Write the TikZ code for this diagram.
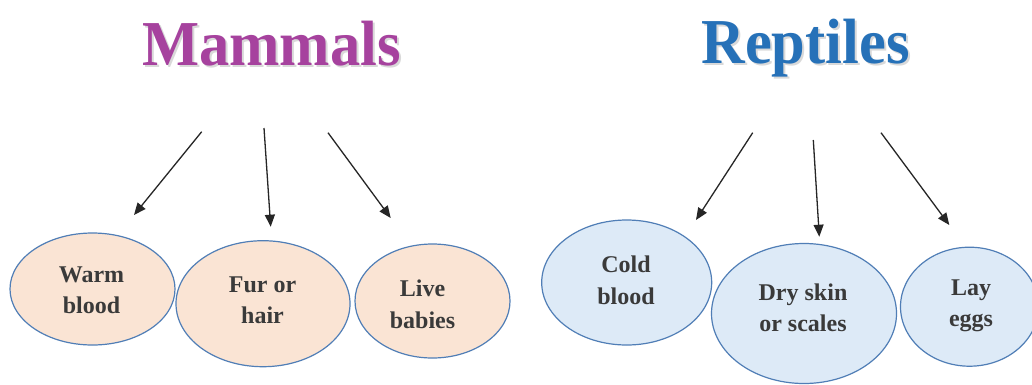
\documentclass[tikz,border=0pt]{standalone}
\usepackage{fontspec}
\setmainfont{Liberation Serif}
\usetikzlibrary{shapes.geometric,arrows.meta}
\definecolor{mamtitle}{RGB}{166,66,158}
\definecolor{reptitle}{RGB}{38,113,184}
\definecolor{mamfill}{RGB}{250,228,212}
\definecolor{repfill}{RGB}{221,234,247}
\definecolor{rim}{RGB}{80,126,182}
\definecolor{ink}{RGB}{58,58,58}
\tikzset{
  title/.style={anchor=base,inner sep=0pt,xscale=0.945,
    font=\fontsize{64}{70}\selectfont\bfseries},
  shade/.style={title,text=black!15},
  blob/.style={ellipse,draw=rim,line width=1.2pt,inner sep=0pt},
  mam/.style={blob,fill=mamfill},
  rep/.style={blob,fill=repfill},
  lbl/.style={align=center,inner sep=0pt,text=ink,
    font=\fontsize{24}{31.5}\selectfont\bfseries},
  pointer/.style={line width=1.3pt,draw=black!85,
    -{Triangle[length=12pt,width=10pt]}}
}
\begin{document}
\begin{tikzpicture}[x=1pt,y=-1pt]
\useasboundingbox[fill=white] (0,0) rectangle (1032,384);

% headings with a soft drop shadow
\node[shade] (mamS) at (273.5,67) {Mammals};
\node[title,text=mamtitle] (mamT) at (271.5,65) {Mammals};
\node[shade] (repS) at (807.5,65.3) {Reptiles};
\node[title,text=reptitle] (repT) at (805.5,63.3) {Reptiles};

% mammal traits
\node[mam,minimum width=165pt,minimum height=112pt] (warm) at (92.5,289) {};
\node[mam,minimum width=174pt,minimum height=126pt] (fur) at (263,303.7) {};
\node[mam,minimum width=155pt,minimum height=114pt] (live) at (432.5,301) {};
\node[lbl] (warmT) at (91.5,290) {Warm\\blood};
\node[lbl] (furT) at (262.5,300) {Fur or\\hair};
\node[lbl] (liveT) at (422.5,304.5) {Live\\babies};

% reptile traits
\node[rep,minimum width=170pt,minimum height=125pt] (cold) at (626.7,282.5) {};
\node[rep,minimum width=185pt,minimum height=140pt] (dry) at (804,313.5) {};
\node[rep,minimum width=138pt,minimum height=119pt] (lay) at (969.5,306.7) {};
\node[lbl] (coldT) at (626,280.5) {Cold\\blood};
\node[lbl] (dryT) at (803,308) {Dry skin\\or scales};
\node[lbl] (layT) at (971,306) {Lay\\eggs};

% arrow ends
\coordinate (m1a) at (201.7,131.7); \coordinate (m1b) at (134,215);
\coordinate (m2a) at (264,128);     \coordinate (m2b) at (270.7,226.7);
\coordinate (m3a) at (328,132.7);   \coordinate (m3b) at (390.7,218);
\coordinate (r1a) at (752.7,132.7); \coordinate (r1b) at (696,220);
\coordinate (r2a) at (813.3,140);   \coordinate (r2b) at (819.3,236.7);
\coordinate (r3a) at (881,132.7);   \coordinate (r3b) at (949.3,225);

\draw[pointer] (m1a) -- (m1b);
\draw[pointer] (m2a) -- (m2b);
\draw[pointer] (m3a) -- (m3b);
\draw[pointer] (r1a) -- (r1b);
\draw[pointer] (r2a) -- (r2b);
\draw[pointer] (r3a) -- (r3b);
\end{tikzpicture}
\end{document}
